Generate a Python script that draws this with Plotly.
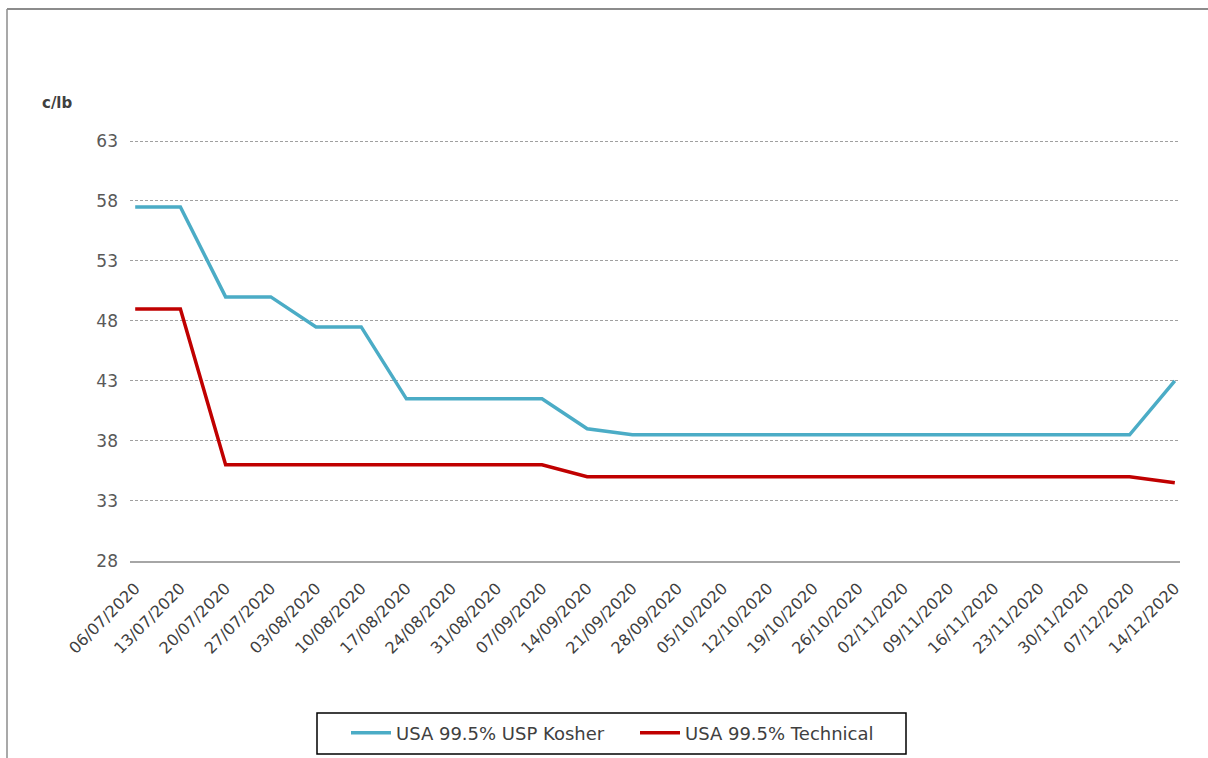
import plotly.graph_objects as go

# Weekly assessment dates
dates = ["06/07/2020", "13/07/2020", "20/07/2020", "27/07/2020", "03/08/2020",
         "10/08/2020", "17/08/2020", "24/08/2020", "31/08/2020", "07/09/2020",
         "14/09/2020", "21/09/2020", "28/09/2020", "05/10/2020", "12/10/2020",
         "19/10/2020", "26/10/2020", "02/11/2020", "09/11/2020", "16/11/2020",
         "23/11/2020", "30/11/2020", "07/12/2020", "14/12/2020"]

# Prices in c/lb
usp_kosher = [57.5, 57.5, 50.0, 50.0, 47.5, 47.5, 41.5, 41.5, 41.5, 41.5,
              39.0, 38.5, 38.5, 38.5, 38.5, 38.5, 38.5, 38.5, 38.5, 38.5,
              38.5, 38.5, 38.5, 43.0]
technical = [49.0, 49.0, 36.0, 36.0, 36.0, 36.0, 36.0, 36.0, 36.0, 36.0,
             35.0, 35.0, 35.0, 35.0, 35.0, 35.0, 35.0, 35.0, 35.0, 35.0,
             35.0, 35.0, 35.0, 34.5]

y_ticks = [28, 33, 38, 43, 48, 53, 58, 63]

FONT = "DejaVu Sans, sans-serif"
W, H = 1208, 758
L, R, T, B = 130, 28, 138, 197          # plot area margins (px)
Y0, Y1 = 27.98, 63.25                  # value range of the plot area
PW, PH = W - L - R, H - T - B


def px_x(x):
    return (x - L) / PW


def px_y(y):
    return (H - B - y) / PH


fig = go.Figure()
fig.add_trace(go.Scatter(x=dates, y=usp_kosher, mode="lines",
                         name="USA 99.5% USP Kosher",
                         line=dict(color="#4BACC6", width=3.5)))
fig.add_trace(go.Scatter(x=dates, y=technical, mode="lines",
                         name="USA 99.5% Technical",
                         line=dict(color="#C00000", width=3.5)))

fig.update_layout(
    width=W, height=H,
    margin=dict(l=L, r=R, t=T, b=B),
    paper_bgcolor="white", plot_bgcolor="white",
    font=dict(family=FONT, size=16, color="#595959"),
    xaxis=dict(type="category", range=[-0.115, len(dates) - 1 + 0.115],
               tickangle=-45, showgrid=False, showline=True,
               linecolor="#A6A6A6", linewidth=1.5, ticks="",
               ticklabelstandoff=10,
               tickfont=dict(family=FONT, size=16, color="#404040")),
    yaxis=dict(range=[Y0, Y1], tickvals=y_ticks, showgrid=True,
               gridcolor="#A0A0A0", griddash="3px,2px", gridwidth=1,
               zeroline=False, showline=False, ticks="",
               ticklabelstandoff=11,
               tickfont=dict(family=FONT, size=17, color="#595959")),
    showlegend=True,
    legend=dict(orientation="h", xref="container", yref="container",
                x=346 / W, xanchor="left", y=1 - 733 / H, yanchor="middle",
                borderwidth=0, bgcolor="rgba(0,0,0,0)",
                itemwidth=40, entrywidth=234,
                font=dict(family=FONT, size=18, color="#404040")),
    annotations=[dict(text="<b>c/lb</b>", xref="paper", yref="paper",
                      x=px_x(57), y=px_y(103), xanchor="center",
                      yanchor="middle", showarrow=False,
                      font=dict(family=FONT, size=15, color="#404040"))],
    shapes=[
        # outer chart frame (top and left edges)
        dict(type="line", xref="paper", yref="paper",
             x0=px_x(7), x1=px_x(1210), y0=px_y(9), y1=px_y(9),
             line=dict(color="#8C8C8C", width=2)),
        dict(type="line", xref="paper", yref="paper",
             x0=px_x(7), x1=px_x(7), y0=px_y(9), y1=px_y(760),
             line=dict(color="#8C8C8C", width=1.5)),
        # legend frame
        dict(type="rect", xref="paper", yref="paper",
             x0=px_x(317), x1=px_x(906), y0=px_y(754), y1=px_y(713),
             line=dict(color="#000000", width=1.5)),
    ],
)

fig.write_html("out.html")
